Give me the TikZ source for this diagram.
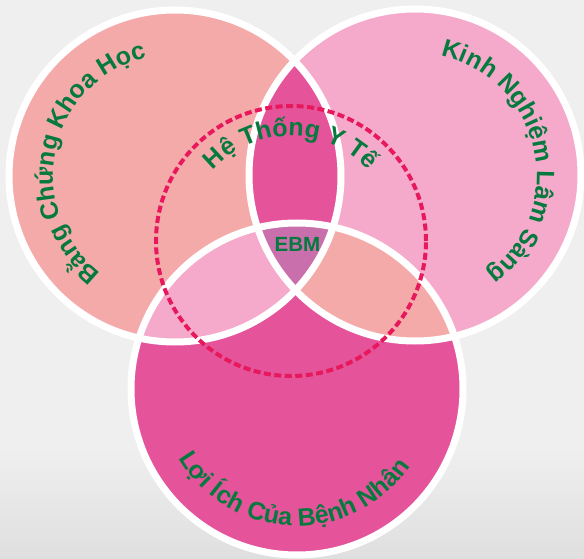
\documentclass[tikz,border=0pt]{standalone}
\usepackage{fontspec}
\setmainfont{Liberation Sans}
\usepackage{xcolor}
\definecolor{ebmBack}{HTML}{EFEFEF}
\definecolor{ebmSalmon}{HTML}{F5AAAA}
\definecolor{ebmPink}{HTML}{F5AACB}
\definecolor{ebmRose}{HTML}{E5539B}
\definecolor{ebmMauve}{HTML}{C96FAC}
\definecolor{ebmGreen}{HTML}{067A3E}
\definecolor{ebmRed}{HTML}{E8185C}
\usetikzlibrary{decorations.text}

\begin{document}
\begin{tikzpicture}[x=1pt, y=1pt,
  ring/.style={white, line width=7pt},
  arctext/.style={decorate, decoration={text along path, text align=center,
    text color=ebmGreen, text={|\bfseries\fontsize{25}{30}\selectfont|#1}}}]
  % canvas
  \useasboundingbox (0,0) rectangle (584,558);
  \fill[ebmBack] (0,0) rectangle (584,558);
  \shade[top color=ebmBack, bottom color=gray!25] (0,0) rectangle (584,110);
  % the three sets
  \coordinate (lc) at (175,382);
  \coordinate (rc) at (415,383);
  \coordinate (bc) at (297,169);
  \coordinate (dc) at (291,317);
  \fill[ebmSalmon] (lc) circle (166);
  \fill[ebmPink] (rc) circle (166);
  \fill[ebmRose] (bc) circle (166);
  % overlaps
  \begin{scope}
    \clip (lc) circle (166);
    \fill[ebmRose] (rc) circle (166);
    \fill[ebmPink] (bc) circle (166);
  \end{scope}
  \begin{scope}
    \clip (rc) circle (166);
    \fill[ebmSalmon] (bc) circle (166);
    \clip (lc) circle (166);
    \fill[ebmMauve] (bc) circle (166);
  \end{scope}
  % borders
  \foreach \c in {lc,rc,bc}
    \draw[ring] (\c) circle (166);
  \draw[ebmRed, line width=4pt, dash pattern=on 7pt off 3.5pt] (dc) circle (135);
  % labels
  \path[arctext={Bằng Chứng Khoa Học}] ([shift={(240:122)}]lc) arc[start angle=240, end angle=96, radius=122];
  \path[arctext={Kinh Nghiệm Lâm Sàng}] ([shift={(84:122)}]rc) arc[start angle=84, end angle=-60, radius=122];
  \path[arctext={Hệ Thống Y Tế}] ([shift={(160:105)}]dc) arc[start angle=160, end angle=20, radius=105];
  \path[arctext={Lợi Ích Của Bệnh Nhân}] ([shift={(198:137)}]bc) arc[start angle=198, end angle=338, radius=137];
  \node[ebmGreen, font=\bfseries\fontsize{20.5}{24}\selectfont] (ebm) at (297.5,313.5) {EBM};
\end{tikzpicture}
\end{document}
